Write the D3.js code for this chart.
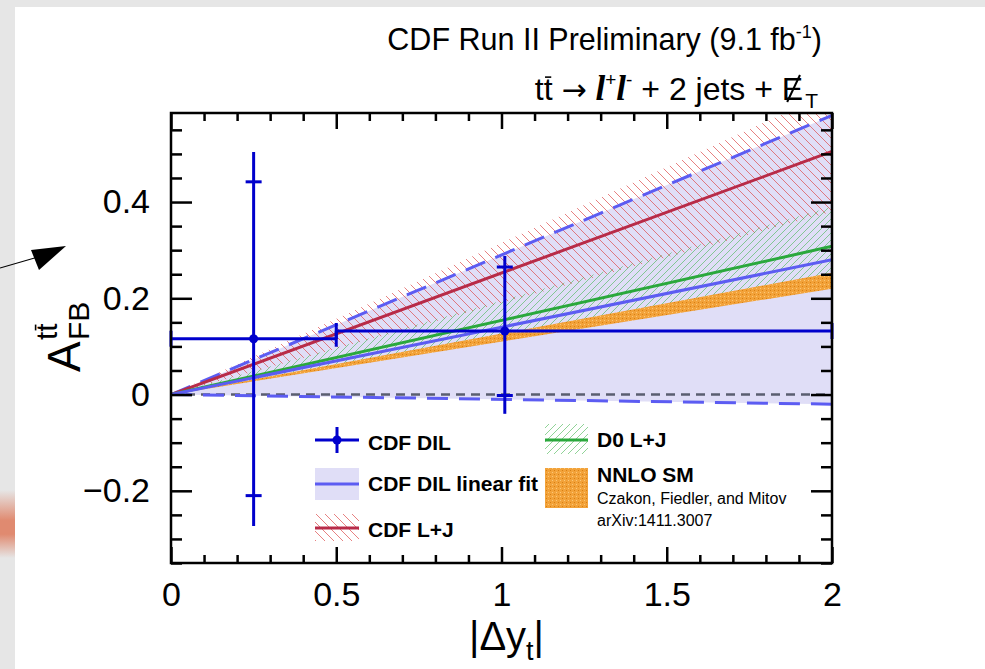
<!DOCTYPE html>
<html><head><meta charset="utf-8">
<script src="https://cdn.jsdelivr.net/npm/d3@7"></script>
<style>body{margin:0;background:#fff;} svg{display:block;font-family:"Liberation Sans",Arial,Helvetica,sans-serif;}</style>
</head><body><svg id="c" width="985" height="669"></svg>
<script>
// ---------- data ----------
const xDomain = [0, 2];
const yDomain = [-0.35, 0.585];
const xMajorTicks = [0, 0.5, 1, 1.5, 2];
const xMajorLabels = ["0", "0.5", "1", "1.5", "2"];
const xMinorTicks = [0.1, 0.2, 0.3, 0.4, 0.6, 0.7, 0.8, 0.9, 1.1, 1.2, 1.3, 1.4, 1.6, 1.7, 1.8, 1.9];
const yMajorTicks = [-0.2, 0, 0.2, 0.4];
const yMajorLabels = ["\u22120.2", "0", "0.2", "0.4"];
const yMinorTicks = [-0.35, -0.3, -0.25, -0.15, -0.1, -0.05, 0.05, 0.1, 0.15, 0.25, 0.3, 0.35, 0.45, 0.5, 0.55];

// straight-line predictions / fits, values at |Δy| = 0 and 2
const lineX = [0, 2];
const dilFitCentral = [0, 0.28];
const dilFitUpper = [0, 0.58];
const dilFitLower = [0, -0.02];
const cdfLJCentral = [0, 0.505];
const cdfLJUpper = [0, 0.63];
const cdfLJLower = [0, 0.38];
const d0LJCentral = [0, 0.308];
const d0LJUpper = [0, 0.39];
const d0LJLower = [0, 0.226];
const nnloUpper = [0, 0.253];
const nnloLower = [0, 0.22];
const zeroLine = [0, 0];

// CDF DIL measured points
const dilX = [0.25, 1.01];
const dilXLow = [0, 0.5];
const dilXHigh = [0.5, 2];
const dilY = [0.116, 0.132];
const dilStatLow = [-0.21, -0.002];
const dilStatHigh = [0.442, 0.265];
const dilTotLow = [-0.273, -0.04];
const dilTotHigh = [0.504, 0.288];

const legendLabels = ["CDF DIL", "CDF DIL linear fit", "CDF L+J", "D0 L+J", "NNLO SM"];
const legendNotes = ["Czakon, Fiedler, and Mitov", "arXiv:1411.3007"];

// ---------- layout ----------
const L = 171, R = 832, T = 113, B = 563;
const svg = d3.select("#c");
const x = d3.scaleLinear().domain(xDomain).range([L, R]);
const y = d3.scaleLinear().domain(yDomain).range([B, T]);

const C = {
  lav: "#e0def7", fitBlue: "#5c5cf2", red: "#b82b48", redHatch: "#dd4a4a",
  green: "#2aa83c", greenHatch: "#45b550", orange: "#f2a23a", dil: "#0000cc", zero: "#5a5e70"
};

// background decorations
svg.append("rect").attr("width", 985).attr("height", 669).attr("fill", "#fff");
svg.append("rect").attr("x", 0).attr("y", 0).attr("width", 985).attr("height", 7).attr("fill", "#e6e6e6");
svg.append("rect").attr("x", 0).attr("y", 0).attr("width", 15).attr("height", 669).attr("fill", "#e6e6e6");
const defs = svg.append("defs");
const lg = defs.append("linearGradient").attr("id", "blur").attr("x1", 0).attr("y1", 0).attr("x2", 0).attr("y2", 1);
lg.append("stop").attr("offset", "0%").attr("stop-color", "#e6e6e6");
lg.append("stop").attr("offset", "45%").attr("stop-color", "#e08a70");
lg.append("stop").attr("offset", "65%").attr("stop-color", "#e08a70");
lg.append("stop").attr("offset", "100%").attr("stop-color", "#e6e6e6");
svg.append("rect").attr("x", 0).attr("y", 490).attr("width", 15).attr("height", 68).attr("fill", "url(#blur)");
// arrow
svg.append("line").attr("x1", 0).attr("y1", 268).attr("x2", 38).attr("y2", 257).attr("stroke", "#000").attr("stroke-width", 1.2);
svg.append("polygon").attr("points", "31,250 66,246 39,270").attr("fill", "#000");

// patterns
const pr = defs.append("pattern").attr("id", "hRed").attr("patternUnits", "userSpaceOnUse").attr("width", 9).attr("height", 9);
pr.append("path").attr("d", "M-2,-2 L11,11 M-2,7 L2,11 M7,-2 L11,2").attr("stroke", C.redHatch).attr("stroke-width", 0.7).attr("fill", "none");
const pg = defs.append("pattern").attr("id", "hGreen").attr("patternUnits", "userSpaceOnUse").attr("width", 7).attr("height", 7);
pg.append("path").attr("d", "M-2,9 L9,-2 M-2,2 L2,-2 M5,9 L9,5").attr("stroke", C.greenHatch).attr("stroke-width", 0.6).attr("fill", "none");
const po = defs.append("pattern").attr("id", "pOrange").attr("patternUnits", "userSpaceOnUse").attr("width", 4).attr("height", 4);
po.append("rect").attr("width", 4).attr("height", 4).attr("fill", C.orange);
po.append("rect").attr("x", 0).attr("y", 0).attr("width", 1).attr("height", 1).attr("fill", "#fbc878");
po.append("rect").attr("x", 2).attr("y", 2).attr("width", 1).attr("height", 1).attr("fill", "#d97f10");
defs.append("clipPath").attr("id", "plotClip").append("rect").attr("x", L).attr("y", T).attr("width", R - L).attr("height", B - T);

const plot = svg.append("g").attr("clip-path", "url(#plotClip)");
const pts = (ys) => lineX.map((v, i) => ({x: v, y: ys[i]}));
const band = (lo, hi) => lineX.map((v, i) => ({x: v, lo: lo[i], hi: hi[i]}));
const area = d3.area().x(d => x(d.x)).y0(d => y(d.lo)).y1(d => y(d.hi));
const line = d3.line().x(d => x(d.x)).y(d => y(d.y));

plot.append("path").attr("d", area(band(dilFitLower, dilFitUpper))).attr("fill", C.lav);
plot.append("path").attr("d", area(band(cdfLJLower, cdfLJUpper))).attr("fill", "url(#hRed)");
plot.append("path").attr("d", area(band(d0LJLower, d0LJUpper))).attr("fill", "url(#hGreen)");
plot.append("path").attr("d", area(band(nnloLower, nnloUpper))).attr("fill", "url(#pOrange)");
plot.append("path").attr("d", line(pts(zeroLine))).attr("stroke", C.zero).attr("stroke-width", 2.5).attr("stroke-dasharray", "9,6").attr("fill", "none");
[dilFitUpper, dilFitLower].forEach(s => plot.append("path").attr("d", line(pts(s))).attr("stroke", C.fitBlue).attr("stroke-width", 3).attr("stroke-dasharray", "21,11").attr("fill", "none"));
plot.append("path").attr("d", line(pts(cdfLJCentral))).attr("stroke", C.red).attr("stroke-width", 3).attr("fill", "none");
plot.append("path").attr("d", line(pts(d0LJCentral))).attr("stroke", C.green).attr("stroke-width", 3).attr("fill", "none");
plot.append("path").attr("d", line(pts(dilFitCentral))).attr("stroke", C.fitBlue).attr("stroke-width", 3).attr("fill", "none");

// data points
const dg = svg.append("g").attr("stroke", C.dil).attr("stroke-width", 3);
dilX.forEach((xv, i) => {
  dg.append("line").attr("x1", x(xv)).attr("x2", x(xv)).attr("y1", y(dilTotLow[i])).attr("y2", y(dilTotHigh[i]));
  [dilStatLow[i], dilStatHigh[i]].forEach(s => dg.append("line").attr("x1", x(xv) - 8).attr("x2", x(xv) + 8).attr("y1", y(s)).attr("y2", y(s)));
  dg.append("line").attr("x1", x(dilXLow[i])).attr("x2", x(dilXHigh[i])).attr("y1", y(dilY[i])).attr("y2", y(dilY[i]));
  [dilXLow[i], dilXHigh[i]].forEach(s => dg.append("line").attr("x1", x(s)).attr("x2", x(s)).attr("y1", y(dilY[i]) - 8).attr("y2", y(dilY[i]) + 8));
  svg.append("circle").attr("cx", x(xv)).attr("cy", y(dilY[i])).attr("r", 4.5).attr("fill", C.dil);
});

// axes (ticks inward)
function styleAxis(g, fs) {
  g.select(".domain").remove();
  g.selectAll(".tick line").attr("stroke", "#000").attr("stroke-width", 2.5);
  g.attr("font-family", null).attr("font-size", fs);
  g.selectAll("text").attr("fill", "#000");
}
svg.append("g").attr("transform", `translate(0,${B})`).call(d3.axisBottom(x).tickValues(xMajorTicks).tickFormat((d, i) => xMajorLabels[i]).tickSize(-16).tickPadding(19)).call(g => styleAxis(g, 34));
svg.append("g").attr("transform", `translate(0,${B})`).call(d3.axisBottom(x).tickValues(xMinorTicks).tickFormat("").tickSize(-8)).call(g => styleAxis(g, 34));
svg.append("g").attr("transform", `translate(0,${T})`).call(d3.axisTop(x).tickValues(xMajorTicks).tickFormat("").tickSize(-16)).call(g => styleAxis(g, 34));
svg.append("g").attr("transform", `translate(0,${T})`).call(d3.axisTop(x).tickValues(xMinorTicks).tickFormat("").tickSize(-8)).call(g => styleAxis(g, 34));
svg.append("g").attr("transform", `translate(${L},0)`).call(d3.axisLeft(y).tickValues(yMajorTicks).tickFormat((d, i) => yMajorLabels[i]).tickSize(-21).tickPadding(21)).call(g => styleAxis(g, 34));
svg.append("g").attr("transform", `translate(${L},0)`).call(d3.axisLeft(y).tickValues(yMinorTicks).tickFormat("").tickSize(-11)).call(g => styleAxis(g, 34));
svg.append("g").attr("transform", `translate(${R},0)`).call(d3.axisRight(y).tickValues(yMajorTicks).tickFormat("").tickSize(-21)).call(g => styleAxis(g, 34));
svg.append("g").attr("transform", `translate(${R},0)`).call(d3.axisRight(y).tickValues(yMinorTicks).tickFormat("").tickSize(-11)).call(g => styleAxis(g, 34));
svg.append("rect").attr("x", L).attr("y", T).attr("width", R - L).attr("height", B - T).attr("fill", "none").attr("stroke", "#000").attr("stroke-width", 2.5);

// macron helper
function macron(textSel, idx, parent) {
  const e = textSel.node().getExtentOfChar(idx);
  parent.append("line").attr("x1", e.x + e.width * 0.15).attr("x2", e.x + e.width * 0.85)
    .attr("y1", e.y + e.height * 0.17).attr("y2", e.y + e.height * 0.17).attr("stroke", "#000").attr("stroke-width", 1.6);
}

// x title
const xt = svg.append("text").attr("x", (L + R) / 2 + 5).attr("y", 650).attr("text-anchor", "middle").attr("font-size", 40);
xt.append("tspan").text("|\u0394y");
xt.append("tspan").attr("font-size", 27).attr("dy", 10).text("t");
xt.append("tspan").attr("dy", -10).text("|");

// y title
const yg = svg.append("g").attr("transform", "translate(80,372) rotate(-90)");
yg.append("text").attr("x", 0).attr("y", 0).attr("font-size", 46).text("A");
const ytt = yg.append("text").attr("x", 32).attr("y", -23).attr("font-size", 30).text("tt");
macron(ytt, 1, yg);
yg.append("text").attr("x", 32).attr("y", 9).attr("font-size", 30).text("FB");

// titles
const t1 = svg.append("text").attr("x", 822).attr("y", 50).attr("text-anchor", "end").attr("font-size", 30.5);
t1.append("tspan").text("CDF Run II Preliminary (9.1 fb");
t1.append("tspan").attr("font-size", 18).attr("dy", -12).text("-1");
t1.append("tspan").attr("dy", 12).text(")");

const t2 = svg.append("text").attr("x", 818).attr("y", 100).attr("text-anchor", "end").attr("font-size", 32);
t2.append("tspan").text("tt ");
t2.append("tspan").attr("font-family", "'DejaVu Sans',sans-serif").attr("font-size", 30).text("\u2192");
t2.append("tspan").text(" ");
const serif = {"font-family": "'Liberation Serif','Times New Roman',serif", "font-style": "italic", "font-weight": "bold"};
const lt = (txt) => { const s = t2.append("tspan").text(txt).attr("font-size", 35); Object.entries(serif).forEach(([k, v]) => s.attr(k, v)); return s; };
lt("l");
t2.append("tspan").attr("font-size", 19).attr("dy", -14).text("+");
lt("l").attr("dy", 14);
t2.append("tspan").attr("font-size", 19).attr("dy", -14).text("-");
t2.append("tspan").attr("dy", 14).text(" + 2 jets + E");
t2.append("tspan").attr("font-size", 21).attr("dx", 2).attr("dy", 8).text("T");
macron(t2, 1, svg);
// slash through the E (missing transverse energy)
{
  const txt = t2.node().textContent;
  const ei = txt.lastIndexOf("E");
  const e = t2.node().getExtentOfChar(ei);
  svg.append("line").attr("x1", e.x + e.width * 0.25).attr("y1", 100 + 2)
    .attr("x2", e.x + e.width * 0.85).attr("y2", 100 - 25).attr("stroke", "#000").attr("stroke-width", 2);
}

// legend
const lgd = svg.append("g");
const fb = {size: 21};
// CDF DIL
lgd.append("line").attr("x1", 315).attr("x2", 359).attr("y1", 440).attr("y2", 440).attr("stroke", C.dil).attr("stroke-width", 3);
lgd.append("line").attr("x1", 337).attr("x2", 337).attr("y1", 427).attr("y2", 453).attr("stroke", C.dil).attr("stroke-width", 3);
lgd.append("circle").attr("cx", 337).attr("cy", 440).attr("r", 4.5).attr("fill", C.dil);
// linear fit
lgd.append("rect").attr("x", 315).attr("y", 468).attr("width", 44).attr("height", 32).attr("fill", C.lav);
lgd.append("line").attr("x1", 315).attr("x2", 359).attr("y1", 484).attr("y2", 484).attr("stroke", C.fitBlue).attr("stroke-width", 3);
// CDF L+J
lgd.append("rect").attr("x", 315).attr("y", 514).attr("width", 44).attr("height", 27).attr("fill", "url(#hRed)");
lgd.append("line").attr("x1", 315).attr("x2", 359).attr("y1", 528).attr("y2", 528).attr("stroke", C.red).attr("stroke-width", 3);
// D0 L+J
lgd.append("rect").attr("x", 545).attr("y", 424).attr("width", 43).attr("height", 30).attr("fill", "url(#hGreen)");
lgd.append("line").attr("x1", 545).attr("x2", 588).attr("y1", 440).attr("y2", 440).attr("stroke", C.green).attr("stroke-width", 3);
// NNLO
lgd.append("rect").attr("x", 545).attr("y", 468).attr("width", 43).attr("height", 40).attr("fill", "url(#pOrange)");

const legPos = [[368, 450], [368, 491], [368, 537], [597, 447], [597, 482]];
legendLabels.forEach((t, i) => lgd.append("text").attr("x", legPos[i][0]).attr("y", legPos[i][1]).attr("font-size", fb.size).attr("font-weight", "bold").text(t));
legendNotes.forEach((t, i) => lgd.append("text").attr("x", 597).attr("y", 504 + i * 22).attr("font-size", 16).text(t));
</script></body></html>
